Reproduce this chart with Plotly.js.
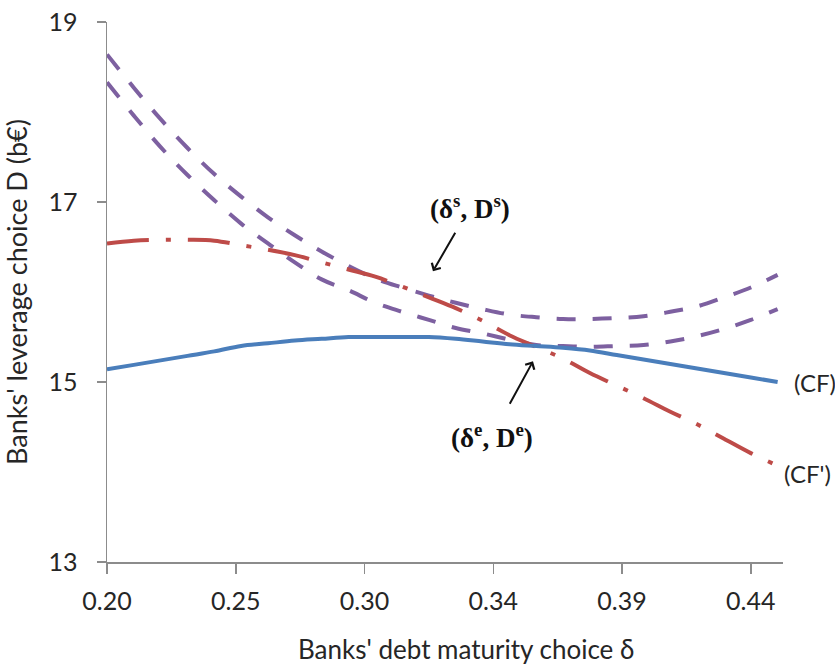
<!DOCTYPE html>
<html>
<head>
<meta charset="utf-8">
<script src="https://cdn.plot.ly/plotly-3.0.1.min.js"></script>
<style>html,body{margin:0;padding:0;background:#fff;}#chart{width:835px;height:668px;}</style>
</head>
<body>
<div id="chart"></div>
<script>
// Debt maturity choice δ (x values)
var delta = [0.20,0.21,0.22,0.23,0.24,0.25,0.26,0.27,0.28,0.29,0.30,0.31,0.32,0.33,0.34,0.35,0.36,0.37,0.38,0.39,0.40,0.41,0.42,0.43,0.44,0.45];
// (CF) leverage choice
var cf = [15.14,15.19,15.24,15.29,15.34,15.40,15.43,15.46,15.48,15.50,15.50,15.50,15.50,15.48,15.45,15.42,15.40,15.38,15.35,15.30,15.25,15.20,15.15,15.10,15.05,15.00];
// (CF') leverage choice
var cfPrime = [16.54,16.57,16.58,16.58,16.57,16.52,16.47,16.41,16.33,16.25,16.17,16.06,15.94,15.82,15.68,15.52,15.39,15.26,15.10,14.96,14.82,14.67,14.53,14.37,14.21,14.07];
// upper dashed curve
var dashUpper = [18.64,18.27,17.92,17.60,17.31,17.06,16.83,16.63,16.45,16.29,16.15,16.05,15.96,15.88,15.81,15.75,15.72,15.70,15.70,15.71,15.73,15.78,15.84,15.94,16.05,16.19];
// lower dashed curve
var dashLower = [18.33,17.96,17.61,17.30,17.02,16.76,16.54,16.33,16.14,16.02,15.88,15.78,15.69,15.60,15.54,15.47,15.41,15.40,15.39,15.40,15.41,15.45,15.51,15.59,15.69,15.81];
// tick labels
var xTickVals = [0.200,0.248,0.296,0.344,0.392,0.440];
var xTickText = ['0.20','0.25','0.30','0.34','0.39','0.44'];
var yTickVals = [13,15,17,19];

var traces = [
  {x: delta, y: dashUpper, mode:'lines', line:{color:'#7D60A0', width:4, dash:'19px,17px', shape:'spline'}},
  {x: delta, y: dashLower, mode:'lines', line:{color:'#7D60A0', width:4, dash:'19px,17px', shape:'spline'}},
  {x: delta, y: cfPrime, mode:'lines', line:{color:'#BE4B48', width:4, dash:'42px,17px,5px,17px', shape:'spline'}},
  {x: delta, y: cf, mode:'lines', line:{color:'#4A7EBB', width:4, shape:'spline'}}
];

var fam = 'Lato, "Open Sans", sans-serif';
var txtColor = '#262626';
var serifFont = {family:'"Liberation Serif", "DejaVu Serif", serif', size:27, color:'#111'};

var layout = {
  width:835, height:668,
  margin:{l:107, r:52, t:22, b:106},
  paper_bgcolor:'#fff', plot_bgcolor:'#fff',
  showlegend:false,
  font:{family:fam, size:25, color:txtColor},
  xaxis:{
    range:[0.2,0.452], tickmode:'array', tickvals:xTickVals, ticktext:xTickText,
    showgrid:false, zeroline:false, showline:true, linecolor:'#8C8C8C', linewidth:1.5,
    ticks:'outside', ticklen:10, tickcolor:'#8C8C8C', tickwidth:1.5,
    tickfont:{family:fam, size:25, color:txtColor},
    ticklabelstandoff:6
  },
  yaxis:{
    range:[13,19], tickmode:'array', tickvals:yTickVals,
    showgrid:false, zeroline:false, showline:true, linecolor:'#8C8C8C', linewidth:1.5,
    ticks:'outside', ticklen:9, tickcolor:'#8C8C8C', tickwidth:1.5,
    tickfont:{family:fam, size:25, color:txtColor},
    ticklabelstandoff:14,
    title:{text:'Banks\' leverage choice D (b€)', font:{family:fam, size:27, color:txtColor}, standoff:17}
  },
  annotations:[
    {x:0.531, y:-0.161, xref:'paper', yref:'paper', xanchor:'center', yanchor:'middle',
     text:'Banks\' debt maturity choice δ', showarrow:false, font:{family:fam, size:26, color:txtColor}},
    {x:0.3215, y:16.23, xref:'x', yref:'y', ax:37, ay:-64, text:'<b>(δ<sup>s</sup>, D<sup>s</sup>)</b>',
     showarrow:true, arrowhead:4, arrowsize:1, arrowwidth:2, arrowcolor:'#111', standoff:0, startstandoff:8, font:serifFont},
    {x:0.3588, y:15.23, xref:'x', yref:'y', ax:-41, ay:75, text:'<b>(δ<sup>e</sup>, D<sup>e</sup>)</b>',
     showarrow:true, arrowhead:4, arrowsize:1, arrowwidth:2, arrowcolor:'#111', standoff:0, startstandoff:16, font:serifFont},
    {x:1.013, y:15.0, xref:'paper', yref:'y', xanchor:'left', yanchor:'middle', text:'(CF)', showarrow:false, font:{family:fam, size:24, color:txtColor}},
    {x:0.999, y:13.98, xref:'paper', yref:'y', xanchor:'left', yanchor:'middle', text:'(CF\')', showarrow:false, font:{family:fam, size:24, color:txtColor}}
  ]
};

Plotly.newPlot('chart', traces, layout, {displayModeBar:false, staticPlot:true});
</script>
</body>
</html>
